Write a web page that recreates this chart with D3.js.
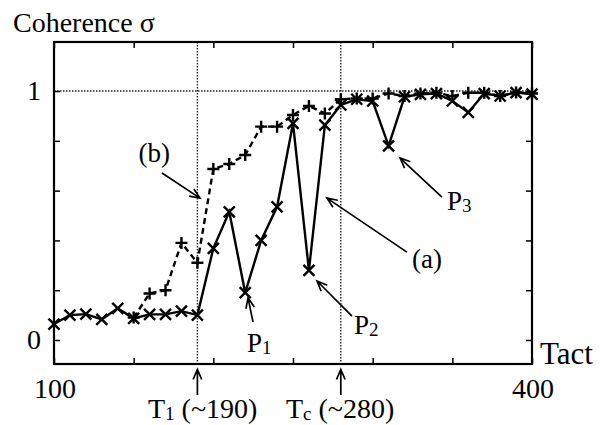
<!DOCTYPE html>
<html>
<head>
<meta charset="utf-8">
<script src="https://cdn.jsdelivr.net/npm/d3@7"></script>
<style>
  body { margin: 0; background: #fff; }
  text { font-family: "Liberation Serif", "Times New Roman", serif; fill: #000; }
</style>
</head>
<body>
<div id="chart"></div>
<script>
// Tact values (x) for every sample
var tactA = d3.range(100, 401, 10);
var tactB = d3.range(150, 401, 10);

// (a) solid line with x markers
var seriesA = [0.064, 0.10, 0.104, 0.083, 0.127, 0.087, 0.103, 0.103, 0.116, 0.10,
    0.368, 0.515, 0.19, 0.40, 0.535, 0.87, 0.28, 0.863, 0.944,
    0.967, 0.96, 0.78, 0.977, 0.987, 0.99, 0.96, 0.914, 0.99, 0.98, 0.994, 0.988];

// (b) dashed line with + markers
var seriesB = [0.09, 0.187, 0.20, 0.39, 0.31, 0.687, 0.707, 0.743, 0.857, 0.857,
    0.904, 0.94, 0.91, 0.967, 0.97, 0.97, 0.99, 0.98, 0.99, 0.993, 0.98, 0.993,
    0.993, 0.98, 0.994, 0.99];

var xTicks = [100, 150, 200, 250, 300, 350, 400];
var yTicks = [0, 0.2, 0.4, 0.6, 0.8, 1];
var xTickLabels = [100, 400];
var yTickLabels = [0, 1];
var vLines = [190, 280];

var width = 605, height = 425;
var plotL = 54, plotR = 532, plotT = 42, plotB = 364;

var svg = d3.select('#chart').append('svg')
    .attr('width', width)
    .attr('height', height);

var x = d3.scaleLinear().domain([100, 400]).range([plotL, plotR]);
var y = d3.scaleLinear().domain([-0.0964, 1.197]).range([plotB, plotT]);

// dotted guide lines
svg.append('line')
    .attr('x1', plotL).attr('x2', plotR)
    .attr('y1', y(1)).attr('y2', y(1))
    .attr('stroke', '#222').attr('stroke-width', 1.4)
    .attr('stroke-dasharray', '1.5,1.5');

svg.selectAll('line.vguide')
    .data(vLines)
    .enter()
    .append('line')
    .attr('class', 'vguide')
    .attr('x1', function(d) { return x(d); })
    .attr('x2', function(d) { return x(d); })
    .attr('y1', plotT).attr('y2', plotB)
    .attr('stroke', '#222').attr('stroke-width', 1.4)
    .attr('stroke-dasharray', '1.5,1.5');

// frame
svg.append('rect')
    .attr('x', plotL).attr('y', plotT)
    .attr('width', plotR - plotL).attr('height', plotB - plotT)
    .attr('fill', 'none').attr('stroke', '#000').attr('stroke-width', 2.2);

// inward ticks on all four sides
var tickLen = 6;
svg.append('g')
    .attr('transform', 'translate(0,' + plotB + ')')
    .call(d3.axisBottom(x).tickValues(xTicks).tickSize(-tickLen).tickFormat(''))
    .call(function(g) { g.select('.domain').remove(); });
svg.append('g')
    .attr('transform', 'translate(0,' + plotT + ')')
    .call(d3.axisTop(x).tickValues(xTicks).tickSize(-tickLen).tickFormat(''))
    .call(function(g) { g.select('.domain').remove(); });
svg.append('g')
    .attr('transform', 'translate(' + plotL + ',0)')
    .call(d3.axisLeft(y).tickValues(yTicks).tickSize(-tickLen).tickFormat(''))
    .call(function(g) { g.select('.domain').remove(); });
svg.append('g')
    .attr('transform', 'translate(' + plotR + ',0)')
    .call(d3.axisRight(y).tickValues(yTicks).tickSize(-tickLen).tickFormat(''))
    .call(function(g) { g.select('.domain').remove(); });
svg.selectAll('.tick line').attr('stroke', '#000').attr('stroke-width', 1.5);

// tick labels
svg.selectAll('text.xlab')
    .data(xTickLabels)
    .enter()
    .append('text')
    .attr('class', 'xlab')
    .attr('x', function(d) { return x(d) + 1; })
    .attr('y', 398)
    .attr('font-size', 28)
    .style('text-anchor', 'middle')
    .text(function(d) { return d; });

svg.selectAll('text.ylab')
    .data(yTickLabels)
    .enter()
    .append('text')
    .attr('class', 'ylab')
    .attr('x', 41)
    .attr('y', function(d) { return y(d) + 9; })
    .attr('font-size', 28)
    .style('text-anchor', 'end')
    .text(function(d) { return d; });

svg.append('text')
    .attr('x', 13).attr('y', 32)
    .attr('font-size', 28)
    .text('Coherence σ');

svg.append('text')
    .attr('x', 540).attr('y', 364)
    .attr('font-size', 31)
    .text('Tact');

// lines
var dataA = tactA.map(function(t, i) { return [t, seriesA[i]]; });
var dataB = tactB.map(function(t, i) { return [t, seriesB[i]]; });
var line = d3.line()
    .x(function(d) { return x(d[0]); })
    .y(function(d) { return y(d[1]); });

svg.append('path')
    .datum(dataB)
    .attr('d', line)
    .attr('fill', 'none')
    .attr('stroke', '#000')
    .attr('stroke-width', 2.4)
    .attr('stroke-dasharray', '6,4');

svg.append('path')
    .datum(dataA)
    .attr('d', line)
    .attr('fill', 'none')
    .attr('stroke', '#000')
    .attr('stroke-width', 2.4);

// markers
var s = 5.5;
svg.selectAll('path.cross')
    .data(dataA)
    .enter()
    .append('path')
    .attr('class', 'cross')
    .attr('d', function(d) {
        var cx = x(d[0]), cy = y(d[1]);
        return 'M' + (cx - s) + ',' + (cy - s) + 'L' + (cx + s) + ',' + (cy + s) +
            'M' + (cx - s) + ',' + (cy + s) + 'L' + (cx + s) + ',' + (cy - s);
    })
    .attr('stroke', '#000').attr('stroke-width', 2.4).attr('fill', 'none');

var p = 6;
svg.selectAll('path.plus')
    .data(dataB)
    .enter()
    .append('path')
    .attr('class', 'plus')
    .attr('d', function(d) {
        var cx = x(d[0]), cy = y(d[1]);
        return 'M' + (cx - p) + ',' + cy + 'L' + (cx + p) + ',' + cy +
            'M' + cx + ',' + (cy - p) + 'L' + cx + ',' + (cy + p);
    })
    .attr('stroke', '#000').attr('stroke-width', 2.4).attr('fill', 'none');

// annotations, in data units: [fromTact, fromSigma, toTact, toSigma]
var arrows = [
    [167.8, 0.671, 191.6, 0.570],   // (b)
    [321.5, 0.353, 271.3, 0.570],   // (a)
    [224.9, 0.072, 221.8, 0.169],   // P1
    [287.0, 0.096, 265.1, 0.237],   // P2
    [343.5, 0.574, 317.2, 0.731],   // P3
    [190, -0.221, 190, -0.118],     // T1
    [280, -0.221, 280, -0.118]      // Tc
];

svg.selectAll('path.arrow')
    .data(arrows)
    .enter()
    .append('path')
    .attr('class', 'arrow')
    .attr('d', function(d) {
        var x1 = x(d[0]), y1 = y(d[1]), x2 = x(d[2]), y2 = y(d[3]);
        var ang = Math.atan2(y2 - y1, x2 - x1);
        var len = 11, spread = 0.4;
        var ax = x2 - len * Math.cos(ang - spread), ay = y2 - len * Math.sin(ang - spread);
        var bx = x2 - len * Math.cos(ang + spread), by = y2 - len * Math.sin(ang + spread);
        return 'M' + x1 + ',' + y1 + 'L' + x2 + ',' + y2 +
            'M' + ax + ',' + ay + 'L' + x2 + ',' + y2 + 'L' + bx + ',' + by;
    })
    .attr('stroke', '#000').attr('stroke-width', 1.7).attr('fill', 'none');

// labels: [tact, sigma, main text, small text, rest]
var labels = [
    [153.0, 0.715, '(b)', '', ''],
    [324.7, 0.289, '(a)', '', ''],
    [221.1, -0.048, 'P', '1', ''],
    [288.3, 0.024, 'P', '2', ''],
    [346.7, 0.522, 'P', '3', ''],
    [159.0, -0.313, 'T', '1', ' (~190)'],
    [245.6, -0.313, 'T', 'c', ' (~280)']
];

var lab = svg.selectAll('text.ann')
    .data(labels)
    .enter()
    .append('text')
    .attr('class', 'ann')
    .attr('x', function(d) { return x(d[0]); })
    .attr('y', function(d) { return y(d[1]); })
    .attr('font-size', function(d) { return d[2] == 'T' ? 28 : 27; });

lab.append('tspan').text(function(d) { return d[2]; });
lab.append('tspan')
    .attr('font-size', 19)
    .attr('dy', function(d) { return d[3] ? 2 : 0; })
    .text(function(d) { return d[3]; });
lab.append('tspan')
    .attr('dy', function(d) { return d[4] ? -2 : 0; })
    .style('white-space', 'pre')
    .text(function(d) { return d[4]; });
</script>
</body>
</html>
